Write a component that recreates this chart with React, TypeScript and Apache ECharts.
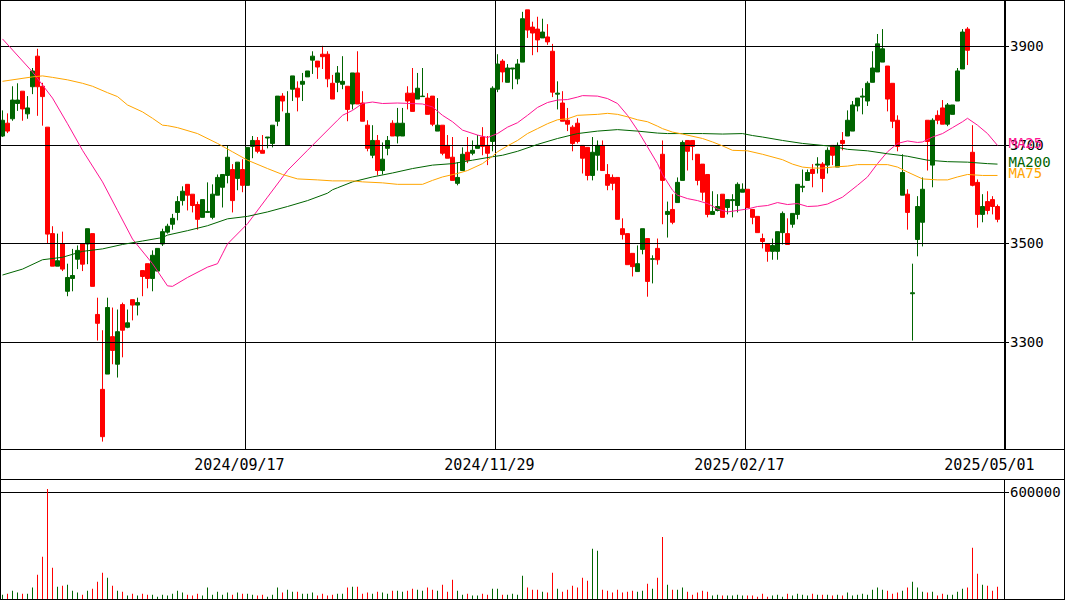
import React, { useEffect, useRef } from "react";
import * as echarts from "echarts";

// ---------- data ----------
const START_DATE = "2024-07-05";
const HOLIDAYS = [
  "2024-07-15", "2024-08-12", "2024-09-16", "2024-09-23", "2024-10-14", "2024-11-04",
  "2024-12-31", "2025-01-01", "2025-01-02", "2025-01-03", "2025-01-13", "2025-02-11",
  "2025-02-24", "2025-03-20", "2025-04-29",
];
const LABEL_INDEX = [49, 99, 149, 199];
const PRICE_TICKS = [3300, 3500, 3700, 3900];
const VOLUME_TICK = 600000;

// [open, close, low, high]
const OHLC: number[][] = [
  [3718,3750,3716,3770],[3744,3728,3724,3764],[3753,3791,3749,3819],[3784,3791,3769,3825],[3809,3773,3749,3809],
  [3763,3775,3753,3799],[3818,3850,3803,3856],[3880,3818,3759,3895],[3819,3798,3739,3826],[3736,3519,3499,3736],
  [3520,3454,3454,3535],[3454,3465,3454,3520],[3499,3448,3444,3524],[3403,3431,3393,3459],[3429,3435,3403,3489],
  [3468,3486,3448,3496],[3499,3458,3444,3499],[3499,3530,3458,3530],[3520,3413,3413,3520],[3356,3338,3303,3390],
  [3204,3108,3098,3324],[3235,3370,3235,3390],[3311,3283,3255,3370],[3255,3321,3228,3366],[3376,3324,3269,3380],
  [3330,3339,3328,3366],[3386,3375,3344,3386],[3375,3380,3354,3390],[3445,3433,3393,3445],[3459,3429,3409,3459],
  [3429,3476,3403,3486],[3444,3490,3444,3490],[3499,3524,3495,3530],[3523,3535,3520,3540],[3539,3551,3528,3560],
  [3563,3585,3547,3596],[3587,3606,3577,3616],[3620,3598,3567,3620],[3600,3577,3563,3600],[3579,3549,3528,3585],
  [3553,3589,3553,3589],[3563,3565,3563,3624],[3553,3600,3549,3620],[3598,3634,3598,3640],[3614,3640,3573,3640],
  [3638,3675,3622,3699],[3650,3587,3563,3661],[3632,3665,3608,3665],[3650,3618,3604,3671],[3618,3695,3618,3695],
  [3697,3709,3673,3718],[3709,3687,3683,3716],[3689,3683,3683,3720],[3714,3716,3693,3716],[3703,3740,3695,3740],
  [3748,3799,3738,3799],[3799,3789,3768,3805],[3699,3764,3699,3809],[3813,3840,3789,3840],[3815,3797,3768,3829],
  [3823,3829,3789,3846],[3838,3850,3838,3850],[3872,3880,3844,3890],[3870,3858,3834,3870],[3884,3879,3854,3901],
  [3884,3834,3817,3890],[3825,3793,3793,3842],[3827,3846,3807,3860],[3823,3829,3813,3880],[3819,3772,3748,3819],
  [3783,3846,3772,3846],[3846,3783,3783,3890],[3785,3748,3748,3809],[3740,3693,3687,3750],[3679,3709,3673,3740],
  [3709,3648,3638,3720],[3648,3671,3640,3705],[3693,3709,3679,3718],[3744,3718,3718,3750],[3718,3744,3703,3775],
  [3718,3744,3718,3775],[3805,3789,3772,3819],[3805,3768,3768,3856],[3793,3815,3793,3846],[3798,3799,3798,3856],
  [3795,3762,3762,3805],[3799,3742,3738,3799],[3728,3740,3728,3795],[3740,3683,3679,3740],[3699,3673,3673,3720],
  [3675,3628,3628,3716],[3622,3634,3618,3665],[3648,3681,3648,3695],[3685,3669,3663,3716],[3683,3689,3679,3709],
  [3693,3699,3693,3720],[3716,3697,3679,3736],[3699,3683,3659,3718],[3707,3815,3687,3819],[3813,3864,3807,3884],
  [3870,3848,3827,3874],[3827,3856,3827,3864],[3854,3856,3813,3856],[3834,3864,3823,3874],[3868,3956,3868,3970],
  [3974,3933,3917,3974],[3939,3927,3882,3950],[3935,3913,3888,3960],[3917,3929,3917,3956],[3919,3909,3903,3945],
  [3890,3807,3797,3905],[3803,3805,3772,3829],[3785,3748,3748,3809],[3750,3742,3728,3775],[3736,3703,3687,3740],
  [3744,3707,3703,3754],[3699,3673,3642,3699],[3695,3638,3628,3695],[3638,3685,3628,3716],[3679,3699,3648,3709],
  [3699,3648,3648,3709],[3640,3618,3608,3661],[3634,3622,3608,3640],[3634,3549,3549,3634],[3530,3518,3508,3551],
  [3520,3457,3457,3520],[3480,3453,3433,3480],[3443,3459,3443,3496],[3488,3530,3478,3530],[3510,3423,3392,3510],
  [3468,3469,3419,3476],[3490,3467,3457,3510],[3681,3628,3539,3709],[3559,3565,3512,3585],[3569,3543,3539,3600],
  [3583,3624,3583,3634],[3628,3705,3628,3709],[3709,3687,3648,3709],[3709,3697,3669,3709],[3681,3628,3618,3681],
  [3661,3604,3587,3661],[3640,3559,3553,3640],[3559,3565,3559,3606],[3567,3575,3565,3600],[3600,3553,3553,3600],
  [3573,3589,3559,3589],[3587,3589,3553,3600],[3577,3620,3563,3624],[3604,3610,3604,3622],[3610,3573,3573,3610],
  [3569,3553,3539,3569],[3555,3522,3522,3555],[3510,3504,3490,3520],[3500,3484,3463,3500],[3484,3496,3467,3510],
  [3484,3524,3467,3524],[3522,3561,3498,3565],[3520,3498,3498,3551],[3539,3561,3532,3561],[3559,3620,3549,3620],
  [3614,3616,3604,3650],[3628,3644,3628,3650],[3650,3642,3614,3661],[3659,3661,3642,3675],[3661,3632,3604,3665],
  [3659,3689,3642,3695],[3699,3679,3659,3699],[3655,3699,3655,3705],[3709,3703,3689,3726],[3718,3750,3718,3770],
  [3728,3781,3728,3789],[3779,3795,3768,3795],[3797,3799,3762,3815],[3789,3825,3779,3829],[3827,3856,3827,3890],
  [3848,3905,3848,3925],[3868,3895,3868,3935],[3860,3793,3768,3860],[3825,3748,3734,3825],[3750,3697,3687,3760],
  [3598,3644,3598,3681],[3600,3563,3528,3610],[3398,3400,3303,3459],[3508,3575,3474,3596],[3543,3610,3494,3634],
  [3750,3707,3648,3750],[3659,3750,3614,3754],[3760,3750,3742,3770],[3775,3742,3742,3791],[3742,3781,3738,3785],
  [3762,3781,3762,3781],[3789,3850,3789,3856],[3854,3929,3854,3935],[3935,3892,3862,3939],[3685,3618,3616,3740],
  [3624,3559,3532,3630],[3559,3575,3543,3600],[3585,3567,3559,3606],[3589,3575,3559,3596],[3575,3549,3543,3579],
];

const VOLUME = [
  24000,30000,47000,36000,30000,30000,64000,137000,237000,619000,
  176000,69000,75000,80000,47000,36000,24000,47000,58000,97000,
  148000,120000,75000,47000,41000,19000,30000,19000,30000,24000,
  24000,13000,24000,19000,30000,47000,36000,24000,19000,30000,
  19000,64000,24000,41000,24000,36000,24000,36000,30000,30000,
  24000,19000,24000,13000,24000,64000,36000,52000,41000,41000,
  30000,30000,36000,19000,30000,19000,24000,30000,30000,64000,
  69000,69000,30000,36000,30000,41000,36000,30000,47000,47000,
  41000,47000,58000,52000,47000,64000,52000,47000,80000,41000,
  108000,47000,24000,30000,19000,19000,30000,24000,58000,58000,
  24000,24000,30000,24000,131000,64000,52000,52000,41000,36000,
  148000,58000,41000,52000,75000,64000,120000,103000,282000,271000,
  52000,47000,36000,52000,36000,41000,47000,41000,47000,86000,
  58000,120000,349000,80000,52000,52000,64000,41000,24000,36000,
  47000,41000,19000,24000,19000,19000,19000,24000,19000,19000,
  19000,13000,30000,13000,19000,24000,13000,30000,19000,30000,
  24000,19000,30000,24000,24000,24000,19000,24000,19000,36000,
  19000,24000,30000,24000,52000,64000,52000,47000,30000,36000,
  47000,64000,97000,64000,41000,36000,41000,19000,30000,24000,
  24000,41000,58000,64000,288000,142000,80000,75000,47000,69000,
];

// moving averages: [candle index, value]
const MA25: number[][] = [
  [0,3915],[6,3848],[10,3795],[13,3743],[16,3689],[20,3625],[23,3567],[26,3509],[30,3459],[33,3414],
  [34,3413],[37,3431],[41,3452],[43,3459],[44,3479],[45,3499],[49,3540],[53,3594],[57,3648],[61,3689],
  [67,3750],[68,3760],[70,3770],[72,3784],[74,3787],[76,3784],[79,3785],[84,3783],[86,3777],[88,3760],
  [90,3747],[92,3730],[95,3720],[97,3715],[99,3723],[101,3736],[103,3745],[105,3760],[107,3776],[109,3786],
  [111,3791],[113,3792],[115,3797],[116,3800],[119,3799],[121,3794],[123,3784],[125,3760],[127,3730],[129,3696],
  [131,3662],[132,3640],[134,3608],[135,3598],[137,3591],[139,3587],[141,3581],[143,3570],[145,3564],[147,3567],
  [149,3570],[151,3575],[153,3577],[155,3583],[157,3579],[159,3581],[161,3575],[163,3576],[165,3580],[168,3594],
  [171,3618],[173,3635],[175,3662],[177,3686],[179,3703],[181,3708],[183,3705],[184,3706],[186,3716],[188,3723],
  [190,3735],[192,3747],[193,3754],[195,3740],[197,3723],[199,3699],
];
const MA75: number[][] = [
  [0,3829],[6,3838],[8,3840],[10,3837],[13,3832],[16,3825],[18,3819],[21,3806],[23,3798],[25,3781],
  [28,3767],[30,3754],[32,3740],[33,3739],[35,3735],[39,3723],[43,3703],[46,3686],[49,3669],[53,3652],
  [56,3640],[59,3631],[63,3629],[66,3627],[70,3627],[72,3625],[76,3623],[79,3620],[84,3620],[86,3628],
  [88,3635],[91,3642],[93,3648],[96,3662],[98,3677],[99,3686],[101,3698],[103,3709],[105,3723],[107,3733],
  [109,3743],[111,3751],[113,3753],[115,3760],[119,3762],[121,3764],[123,3762],[125,3757],[127,3751],[129,3747],
  [131,3738],[132,3733],[134,3726],[136,3722],[140,3713],[142,3706],[144,3698],[146,3689],[149,3688],[152,3681],
  [156,3670],[158,3661],[160,3655],[162,3653],[164,3653],[166,3655],[169,3657],[171,3660],[175,3660],[177,3660],
  [179,3655],[181,3645],[184,3631],[187,3629],[189,3629],[191,3635],[193,3640],[196,3638],[199,3638],
];
const MA200: number[][] = [
  [0,3436],[4,3448],[8,3467],[12,3472],[16,3484],[20,3489],[24,3498],[28,3505],[32,3512],[33,3517],
  [37,3526],[41,3536],[45,3550],[49,3555],[53,3564],[57,3575],[61,3587],[65,3602],[66,3609],[67,3613],
  [70,3625],[74,3635],[78,3643],[82,3652],[86,3659],[90,3662],[94,3669],[98,3676],[100,3679],[103,3687],
  [107,3701],[111,3713],[115,3723],[119,3728],[123,3731],[127,3728],[131,3724],[133,3723],[136,3723],[140,3723],
  [144,3722],[148,3723],[150,3719],[152,3716],[156,3709],[160,3703],[164,3699],[166,3697],[169,3691],[173,3688],
  [177,3682],[181,3677],[185,3669],[189,3666],[193,3665],[197,3662],[199,3661],
];

// ---------- helpers ----------
function tradingDays(start: string, n: number): string[] {
  const out: string[] = [];
  const d = new Date(start + "T00:00:00Z");
  while (out.length < n) {
    const wd = d.getUTCDay();
    const iso = d.toISOString().slice(0, 10);
    if (wd !== 0 && wd !== 6 && !HOLIDAYS.includes(iso)) out.push(iso.replace(/-/g, "/"));
    d.setUTCDate(d.getUTCDate() + 1);
  }
  return out;
}

const GREEN = "#006400";
const RED = "#ff0000";
const PINK = "#ff1493";
const ORANGE = "#ffa500";
const FONT = "'DejaVu Sans Mono', monospace";

export default function App() {
  const ref = useRef<HTMLDivElement>(null);

  useEffect(() => {
    if (!ref.current) return;
    const chart = echarts.init(ref.current, null, { renderer: "svg" });
    const dates = tradingDays(START_DATE, OHLC.length);
    const cats = [...dates, ""];

    const line = (x1: number, y1: number, x2: number, y2: number) => ({
      type: "line",
      silent: true,
      z: 100,
      shape: { x1, y1, x2, y2 },
      style: { stroke: "#000", lineWidth: 1 },
    });

    const maSeries = (name: string, data: number[][], color: string) => ({
      name,
      type: "line",
      xAxisIndex: 0,
      yAxisIndex: 0,
      data,
      showSymbol: false,
      symbol: "none",
      silent: true,
      z: 5,
      lineStyle: { color, width: 1 },
      endLabel: {
        show: true,
        formatter: name,
        color,
        fontFamily: FONT,
        fontSize: 14,
        distance: 11,
        offset: [0, -2],
      },
    });

    const option: any = {
      animation: false,
      backgroundColor: "#ffffff",
      grid: [
        { left: 0, top: 0, width: 1005, height: 449 },
        { left: 0, top: 479, width: 1005, height: 120 },
      ],
      xAxis: [
        {
          type: "category",
          gridIndex: 0,
          data: cats,
          boundaryGap: true,
          axisLine: { show: false },
          axisTick: { show: false },
          axisLabel: {
            show: true,
            interval: (i: number) => LABEL_INDEX.includes(i),
            margin: 8,
            fontFamily: FONT,
            fontSize: 15,
            color: "#000",
            padding: [0, 16, 0, 0],
          },
          splitLine: {
            show: true,
            interval: (i: number) => LABEL_INDEX.slice(0, 3).includes(i),
            lineStyle: { color: "#000", width: 1 },
          },
        },
        {
          type: "category",
          gridIndex: 1,
          data: cats,
          boundaryGap: true,
          axisLine: { show: false },
          axisTick: { show: false },
          axisLabel: { show: false },
          splitLine: { show: false },
        },
      ],
      yAxis: [
        {
          type: "value",
          gridIndex: 0,
          position: "right",
          min: 3083,
          max: 3994,
          splitLine: { show: false },
          axisLine: { show: false },
          axisTick: {
            show: true,
            customValues: PRICE_TICKS,
            length: 4,
            lineStyle: { color: "#000" },
          },
          axisLabel: {
            show: true,
            customValues: PRICE_TICKS,
            margin: 5,
            fontFamily: FONT,
            fontSize: 14,
            color: "#000",
            formatter: (v: number) => String(v),
          },
        },
        {
          type: "value",
          gridIndex: 1,
          position: "right",
          min: 0,
          max: 675000,
          interval: VOLUME_TICK,
          splitLine: { show: true, lineStyle: { color: "#000", width: 1 } },
          axisLine: { show: false },
          axisTick: { show: true, length: 4, lineStyle: { color: "#000" } },
          axisLabel: {
            show: true,
            margin: 5,
            fontFamily: FONT,
            fontSize: 14,
            color: "#000",
            formatter: (v: number) => (v === VOLUME_TICK ? String(VOLUME_TICK) : ""),
          },
        },
      ],
      series: [
        {
          type: "line",
          xAxisIndex: 0,
          yAxisIndex: 0,
          data: [],
          z: 1,
          silent: true,
          markLine: {
            silent: true,
            symbol: ["none", "none"],
            animation: false,
            label: { show: false },
            lineStyle: { color: "#000", width: 1, type: "solid" },
            emphasis: { disabled: true },
            data: PRICE_TICKS.map((v) => ({ yAxis: v })),
          },
        },
        {
          type: "candlestick",
          xAxisIndex: 0,
          yAxisIndex: 0,
          data: OHLC,
          barWidth: 4,
          z: 3,
          silent: true,
          itemStyle: {
            color: GREEN,
            color0: RED,
            borderColor: GREEN,
            borderColor0: RED,
            borderWidth: 1,
          },
        },
        maSeries("MA25", MA25, PINK),
        maSeries("MA200", MA200, GREEN),
        maSeries("MA75", MA75, ORANGE),
        {
          type: "bar",
          xAxisIndex: 1,
          yAxisIndex: 1,
          barWidth: 1,
          silent: true,
          data: VOLUME.map((v, i) => ({
            value: v,
            itemStyle: { color: OHLC[i][1] >= OHLC[i][0] ? GREEN : RED },
          })),
        },
      ],
      graphic: [
        line(0, 0.5, 1065, 0.5),
        line(0.5, 0, 0.5, 600),
        line(1064.5, 0, 1064.5, 600),
        line(0, 449.5, 1065, 449.5),
        line(0, 479.5, 1065, 479.5),
        line(0, 599.5, 1065, 599.5),
        line(1004.5, 0, 1004.5, 450),
        line(1004.5, 479, 1004.5, 600),
      ],
    };

    chart.setOption(option);
    return () => chart.dispose();
  }, []);

  return (
    <div
      ref={ref}
      style={{ position: "fixed", left: 0, top: 0, width: 1065, height: 600, background: "#fff" }}
    />
  );
}
